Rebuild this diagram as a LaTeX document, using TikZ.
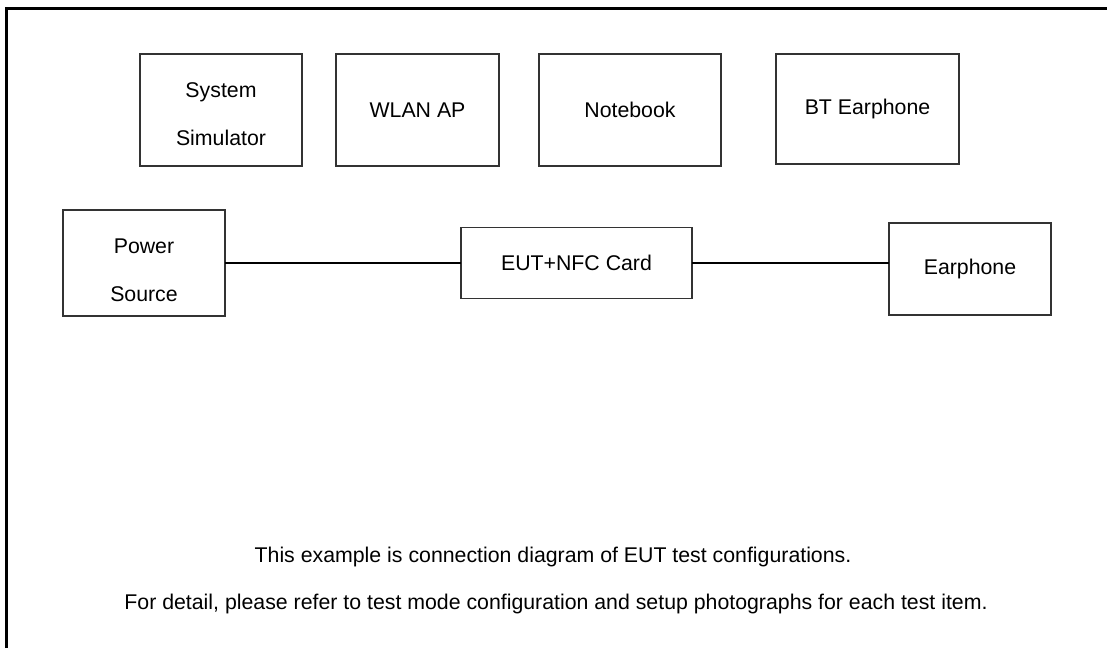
\documentclass[tikz,border=0pt]{standalone}
\usepackage{fontspec}
\setmainfont{Liberation Sans}
\usepackage{tikz}
\newcommand{\devfont}{\fontsize{21.3}{48}\selectfont}
\tikzset{
    devbox/.style = {
        align=center,
        font=\devfont,
        rectangle,
        draw=black!80,
        line width=1.2pt,
        inner sep=0pt,
        outer sep=0mm
    },
    twoline/.style = {
        font=\devfont,
        align=center,
        inner sep=0pt
    },
    notetext/.style = {
        font=\devfont,
        anchor=base,
        inner sep=0pt
    },
    cable/.style = {
        line width=1.6pt,
        draw=black
    }
}
\begin{document}
\begin{tikzpicture}[x=1pt, y=-1pt]
            \useasboundingbox (0,0) rectangle (1107,648);
            % frame
            \draw [line width=2.6pt] (6.5,648) -- (6.5,8.5) -- (1107,8.5);
            % support units
            \node [devbox, minimum width=162pt, minimum height=112pt,
                label={[twoline, yshift=-4pt]center:System\\Simulator}] (sim) at (221,110) {};
            \node [devbox, minimum width=163pt, minimum height=112pt] (wlan) at (417.5,110) {WLAN AP};
            \node [devbox, minimum width=182pt, minimum height=112pt] (nb) at (630,110) {Notebook};
            \node [devbox, minimum width=183pt, minimum height=110pt] (bt) at (867.5,109) {BT Earphone};
            % test setup
            \node [devbox, minimum width=162pt, minimum height=106pt,
                label={[twoline, yshift=-7pt]center:Power\\Source}] (pwr) at (144,263) {};
            \node [devbox, minimum width=231pt, minimum height=71pt] (eut) at (576.5,263) {EUT+NFC Card};
            \node [devbox, minimum width=162pt, minimum height=92pt] (ear) at (970,269) {Earphone};
            \draw [cable] (pwr.east) -- (eut.west);
            \draw [cable] (eut.east) -- (eut.east -| ear.west);
            % notes
            \node [notetext] (note1) at (553,562) {This example is connection diagram of EUT test configurations.};
            \node [notetext] (note2) at (556,609) {For detail, please refer to test mode configuration and setup photographs for each test item.};
\end{tikzpicture}
\end{document}
